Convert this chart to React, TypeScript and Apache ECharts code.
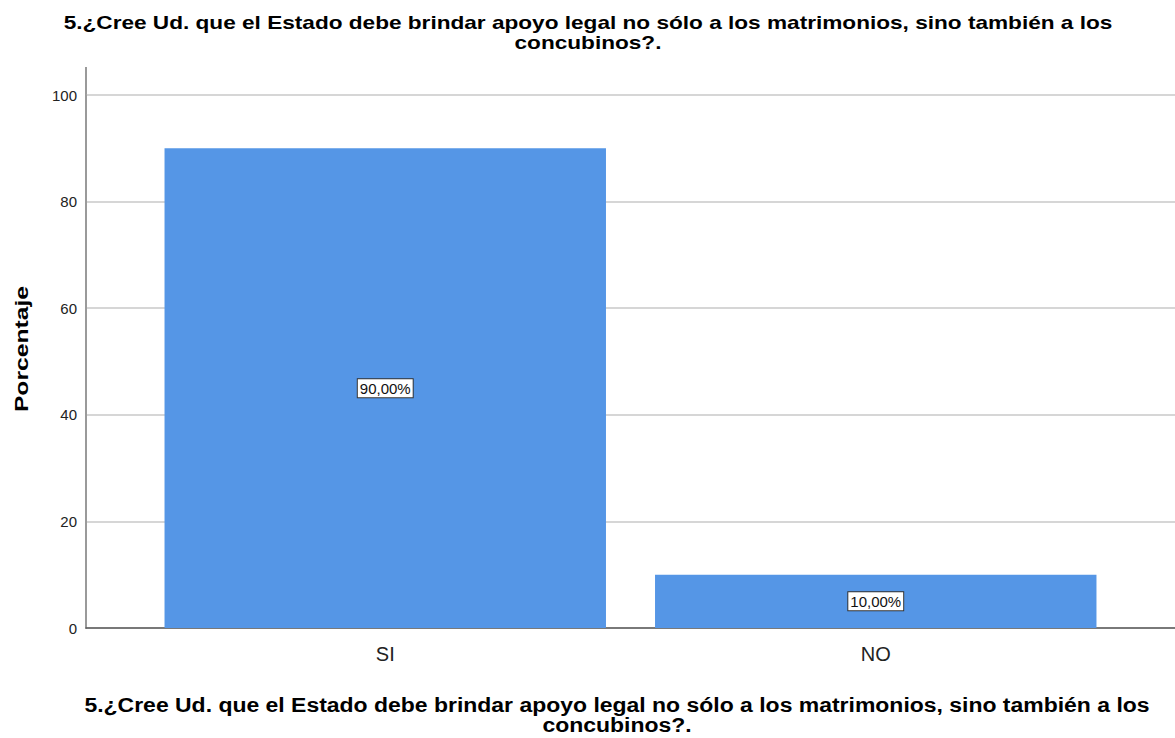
import React, { useEffect, useRef } from "react";
import * as echarts from "echarts";

const categories = ["SI", "NO"];
const percentages = [90, 10];
const yTicks = [0, 20, 40, 60, 80, 100];
const titleLines = [
  "5.¿Cree Ud. que el Estado debe brindar apoyo legal no sólo a los matrimonios, sino también a los",
  "concubinos?.",
];
const yAxisName = "Porcentaje";

export default function App() {
  const ref = useRef<HTMLDivElement>(null);
  useEffect(() => {
    document.body.style.margin = "0";
    const chart = echarts.init(ref.current!, undefined, { renderer: "svg" });
    const font = "Arial";
    const gridTop = 95;
    const gridBottom = 110;
    const txt = (x: number, y: number, text: string, size: number, rotation = 0, scaleX = 1) => ({
      type: "text",
      x,
      y,
      rotation,
      scaleX,
      style: {
        text,
        fontSize: size,
        fontWeight: "bold",
        fontFamily: font,
        fill: "#000",
        align: "center",
        verticalAlign: "middle",
      },
    });
    chart.setOption({
      animation: false,
      backgroundColor: "#ffffff",
      grid: [
        { left: 86, right: 0, top: gridTop, bottom: gridBottom },
        { left: 140, width: 981, top: gridTop, bottom: gridBottom },
      ],
      xAxis: [
        {
          gridIndex: 0,
          type: "value",
          min: 0,
          max: 1,
          axisLine: { show: true, onZero: false, lineStyle: { color: "#5a5a5a", width: 1.5 } },
          axisTick: { show: false },
          axisLabel: { show: false },
          splitLine: { show: false },
        },
        {
          gridIndex: 1,
          type: "category",
          data: categories,
          axisLine: { show: false },
          axisTick: { show: false },
          axisLabel: { fontSize: 20, color: "#222222", fontFamily: font, margin: 16 },
          splitLine: { show: false },
        },
      ],
      yAxis: [
        {
          gridIndex: 0,
          type: "value",
          min: yTicks[0],
          max: yTicks[yTicks.length - 1],
          interval: 20,
          axisLine: { show: true, lineStyle: { color: "#9a9a9a", width: 2 } },
          axisTick: { show: false },
          axisLabel: { fontSize: 15, color: "#222222", fontFamily: font, margin: 9 },
          splitLine: { show: true, lineStyle: { color: "#c8c8c8", width: 1.5 } },
        },
        {
          gridIndex: 1,
          type: "value",
          min: yTicks[0],
          max: yTicks[yTicks.length - 1],
          show: false,
          splitLine: { show: false },
        },
      ],
      series: [
        {
          type: "bar",
          xAxisIndex: 1,
          yAxisIndex: 1,
          data: percentages,
          barCategoryGap: "10%",
          itemStyle: { color: "#5596e6" },
          z: 3,
          label: {
            show: true,
            position: "inside",
            formatter: (p: any) => p.value.toFixed(2).replace(".", ",") + "%",
            fontSize: 15,
            fontFamily: font,
            color: "#111111",
            backgroundColor: "#ffffff",
            borderColor: "#333333",
            borderWidth: 1,
            padding: [2, 2, 1, 2],
          },
        },
      ],
      graphic: [
        {
          type: "line",
          shape: { x1: 86, y1: 67, x2: 86, y2: gridTop },
          style: { stroke: "#9a9a9a", lineWidth: 2 },
        },
        txt(588, 22, titleLines[0], 19, 0, 1.19),
        txt(588, 42, titleLines[1], 19, 0, 1.19),
        txt(617, 705, titleLines[0], 19.3, 0, 1.19),
        txt(617, 725, titleLines[1], 19.3, 0, 1.19),
        txt(22, 349, yAxisName, 19, Math.PI / 2, 1.3),
      ],
    });
    return () => chart.dispose();
  }, []);
  return <div ref={ref} style={{ position: "fixed", left: 0, top: 0, width: 1175, height: 738 }} />;
}
